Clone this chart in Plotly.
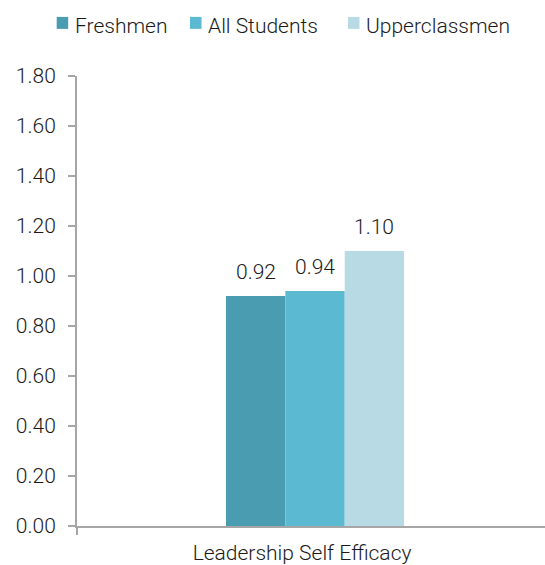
import plotly.graph_objects as go

categories = ["Leadership Self Efficacy"]
series_names = ["Freshmen", "All Students", "Upperclassmen"]
series_values = [[0.92], [0.94], [1.10]]
series_colors = ["#4A9DB0", "#5BB9D2", "#B8DAE4"]
y_ticks = [0.0, 0.2, 0.4, 0.6, 0.8, 1.0, 1.2, 1.4, 1.6, 1.8]
legend_swatch_x = [-0.0434, 0.2415, 0.579]  # swatch left edge (paper units)
legend_text_x = [-0.0085, 0.2756, 0.613]    # label left edge (paper units)

FONT = "Roboto, Liberation Sans, Arial, sans-serif"
WEIGHT = 300
SIZE = 21
TEXT_COLOR = "#1a1a1a"
AXIS_COLOR = "#A6A6A6"
BARGAP = 0.626

font = dict(family=FONT, size=SIZE, color=TEXT_COLOR, weight=WEIGHT)

fig = go.Figure()
for name, vals, color in zip(series_names, series_values, series_colors):
    fig.add_trace(go.Bar(
        x=categories, y=vals, name=name,
        marker=dict(color=color, line=dict(width=0)),
    ))

# value labels above each bar of the group
n = len(series_names)
bar_w = (1 - BARGAP) / n
for i, vals in enumerate(series_values):
    offset = (i - (n - 1) / 2) * bar_w
    for j, v in enumerate(vals):
        fig.add_annotation(
            x=j + offset, y=v, text=f"{v:.2f}", showarrow=False,
            yanchor="bottom", yshift=10, font=font,
        )

# compact legend row: coloured square swatch followed by the series name
for name, color, sx, tx in zip(series_names, series_colors,
                               legend_swatch_x, legend_text_x):
    fig.add_shape(
        type="rect", xref="paper", yref="paper",
        xsizemode="pixel", ysizemode="pixel",
        xanchor=sx, yanchor=1.118, x0=0, x1=11.5, y0=-6, y1=6,
        fillcolor=color, line=dict(width=0),
    )
    fig.add_annotation(
        xref="paper", yref="paper", x=tx, y=1.112,
        xanchor="left", yanchor="middle", showarrow=False,
        text=name, font=font,
    )

fig.update_layout(
    width=545, height=565,
    margin=dict(l=77, r=0, t=76, b=39),
    paper_bgcolor="white", plot_bgcolor="white",
    barmode="group", bargap=BARGAP, bargroupgap=0,
    font=font,
    showlegend=False,
    xaxis=dict(
        type="category", range=[-0.5, 0.483],
        showline=True, linecolor=AXIS_COLOR, linewidth=2,
        ticks="outside", tickson="boundaries", ticklen=7, tickwidth=2,
        tickcolor=AXIS_COLOR,
        showgrid=False, zeroline=False,
        tickfont=font, ticklabelstandoff=7, ticklabelshift=-13,
    ),
    yaxis=dict(
        range=[0, 1.8], tickvals=y_ticks,
        ticktext=[f"{t:.2f}" for t in y_ticks],
        showline=True, linecolor=AXIS_COLOR, linewidth=2,
        ticks="outside", ticklen=7, tickwidth=2, tickcolor=AXIS_COLOR,
        showgrid=False, zeroline=False,
        tickfont=font, ticklabelstandoff=8,
    ),
)

fig.write_html("out.html")
